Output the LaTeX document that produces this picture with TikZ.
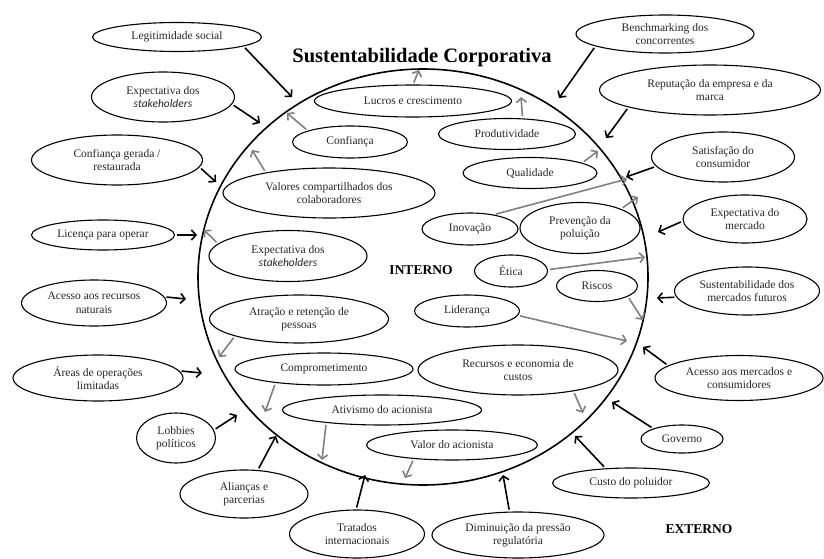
\documentclass[tikz,border=0pt]{standalone}
\usepackage{fontspec}
\setmainfont{Liberation Serif}
\newfontfamily\carl{Carlito}
\newcommand{\stk}{\carl\itshape}
\usetikzlibrary{shapes.geometric,arrows.meta}
\newcommand{\ovalnode}[6]{%
  \node[oval, minimum width=#4pt, minimum height=#5pt] (#1) at (#2,#3) {};
  \node[txt] (#1-t) at (#1.center) {#6};}
\begin{document}
\begin{tikzpicture}[x=1pt,y=-1pt,
  oval/.style={draw, ellipse, line width=1.1pt, inner sep=0pt},
  txt/.style={align=center, font=\fontsize{11.5}{13.5}\selectfont, inner sep=0pt, text=black!85},
  extarrow/.style={line width=1.6pt, -{Straight Barb[length=4.5pt,width=10pt]}, shorten <=2pt},
  intarrow/.style={extarrow, draw=black!50}]
\useasboundingbox (0,0) rectangle (824,559);

% big circle
\node[draw, ellipse, line width=1.6pt, minimum width=450pt, minimum height=416pt, inner sep=0pt] (circ) at (423,277) {};

% titles
\node[anchor=base, inner sep=0pt, font=\fontsize{20.5}{24}\bfseries\selectfont] (title) at (422,63) {Sustentabilidade Corporativa};
\node[anchor=base, inner sep=0pt, font=\fontsize{13.5}{16}\bfseries\selectfont] (interno) at (421,274) {INTERNO};
\node[anchor=base, inner sep=0pt, font=\fontsize{13.5}{16}\bfseries\selectfont] (externo) at (699,533) {EXTERNO};

% external nodes
\ovalnode{legit}{177}{37}{169}{29}{Legitimidade social}
\ovalnode{expL}{163}{97}{143}{50}{Expectativa dos\\{\stk stakeholders}}
\ovalnode{confG}{117}{160}{171}{50}{Confiança gerada /\\restaurada}
\ovalnode{lic}{103}{235}{143}{30}{Licença para operar}
\ovalnode{acR}{94}{303}{145}{46}{Acesso aos recursos\\naturais}
\ovalnode{areas}{98}{378}{170}{46}{Áreas de operações\\limitadas}
\ovalnode{lobby}{176}{438}{79}{50}{Lobbies\\políticos}
\ovalnode{alian}{244}{494}{128}{48}{Alianças e\\parcerias}
\ovalnode{trat}{357}{534}{135}{48}{Tratados\\internacionais}
\ovalnode{dimin}{518}{535}{172}{46}{Diminuição da pressão\\regulatória}
\ovalnode{custo}{631}{483}{157}{30}{Custo do poluidor}
\ovalnode{gov}{682}{439}{82}{28}{Governo}
\ovalnode{acM}{739}{378}{168}{45}{Acesso aos mercados e\\consumidores}
\ovalnode{susM}{747}{291}{145}{48}{Sustentabilidade dos\\mercados futuros}
\ovalnode{expM}{745}{219}{124}{48}{Expectativa do\\mercado}
\ovalnode{satis}{723}{157}{143}{50}{Satisfação do\\consumidor}
\ovalnode{rep}{710}{90}{221}{50}{Reputação da empresa e da\\marca}
\ovalnode{bench}{665}{34}{178}{38}{Benchmarking dos\\concorrentes}

% internal nodes
\ovalnode{lucros}{413}{101}{197}{32}{Lucros e crescimento}
\ovalnode{conf}{350}{142}{115}{32}{Confiança}
\ovalnode{prod}{507}{134}{137}{31}{Produtividade}
\ovalnode{qual}{530}{173}{134}{31}{Qualidade}
\ovalnode{valores}{329}{193}{212}{50}{Valores compartilhados dos\\colaboradores}
\ovalnode{inov}{470}{229}{96}{32}{Inovação}
\ovalnode{prev}{580}{228}{120}{51}{Prevenção da\\poluição}
\ovalnode{expS}{288}{256}{158}{51}{Expectativa dos\\{\stk stakeholders}}
\ovalnode{etica}{511}{271}{73}{32}{Ética}
\ovalnode{riscos}{597}{286}{81}{31}{Riscos}
\ovalnode{lider}{467}{311}{105}{32}{Liderança}
\ovalnode{atrac}{299}{319}{179}{48}{Atração e retenção de\\pessoas}
\ovalnode{compr}{324}{369}{178}{32}{Comprometimento}
\ovalnode{recurs}{518}{370}{200}{50}{Recursos e economia de\\custos}
\ovalnode{ativ}{382}{410}{199}{30}{Ativismo do acionista}
\ovalnode{valor}{452}{445}{171}{30}{Valor do acionista}

% arrow end points
\coordinate (e1) at (292,97);
\coordinate (e2) at (260,123);
\coordinate (e3) at (216,182);
\coordinate (e4) at (559,98);
\coordinate (e5) at (606,138);
\coordinate (e6) at (626,177);
\coordinate (e7) at (197,235);
\coordinate (e8) at (186,299);
\coordinate (e9) at (202,373);
\coordinate (e10) at (237,415);
\coordinate (e11) at (276,436);
\coordinate (e12) at (365,475);
\coordinate (e13) at (503,475);
\coordinate (e14) at (575,436);
\coordinate (e15) at (612,402);
\coordinate (e16) at (643,347);
\coordinate (e17) at (657,298);
\coordinate (e18) at (658,232);

\coordinate (ga) at (419,70);
\coordinate (gb) at (521,97);
\coordinate (gc) at (598,151);
\coordinate (gd) at (627,179);
\coordinate (ge) at (638,197);
\coordinate (gf) at (645,257);
\coordinate (gg) at (643,320);
\coordinate (gh) at (627,341);
\coordinate (gi) at (583,413);
\coordinate (gj) at (405,478);
\coordinate (gk) at (322,460);
\coordinate (gl) at (265,412);
\coordinate (gm) at (219,357);
\coordinate (gn) at (204,230);
\coordinate (go) at (252,150);
\coordinate (gp) at (287,113);

% external (black) arrows
\draw[extarrow] (legit.-8) -- (e1);
\draw[extarrow] (expL.-6) -- (e2);
\draw[extarrow] (confG.-5) -- (e3);
\draw[extarrow] (bench.-170) -- (e4);
\draw[extarrow] (rep.-168) -- (e5);
\draw[extarrow] (satis.-172) -- (e6);
\draw[extarrow] (lic.0) -- (e7);
\draw[extarrow] (acR.5) -- (e8);
\draw[extarrow] (areas.5) -- (e9);
\draw[extarrow] (lobby.12) -- (e10);
\draw[extarrow] (alian.60) -- (e11);
\draw[extarrow] (trat.92) -- (e12);
\draw[extarrow] (dimin.110) -- (e13);
\draw[extarrow] (custo.150) -- (e14);
\draw[extarrow] (gov.160) -- (e15);
\draw[extarrow] (acM.170) -- (e16);
\draw[extarrow] (susM.-175) -- (e17);
\draw[extarrow] (expM.-178) -- (e18);

% internal (gray) arrows
\draw[intarrow] (lucros.90) -- (ga);
\draw[intarrow] (prod.45) -- (gb);
\draw[intarrow] (qual.11) -- (gc);
\draw[intarrow] (inov.31) -- (gd);
\draw[intarrow] (prev.25) -- (ge);
\draw[intarrow] (etica.2) -- (gf);
\draw[intarrow] (riscos.-19) -- (gg);
\draw[intarrow] (lider.-5) -- (gh);
\draw[intarrow] (recurs.-21) -- (gi);
\draw[intarrow] (valor.-160) -- (gj);
\draw[intarrow] (ativ.-167) -- (gk);
\draw[intarrow] (compr.-164) -- (gl);
\draw[intarrow] (atrac.-165) -- (gm);
\draw[intarrow] (expS.170) -- (gn);
\draw[intarrow] (valores.162) -- (go);
\draw[intarrow] (conf.165) -- (gp);
\end{tikzpicture}
\end{document}
